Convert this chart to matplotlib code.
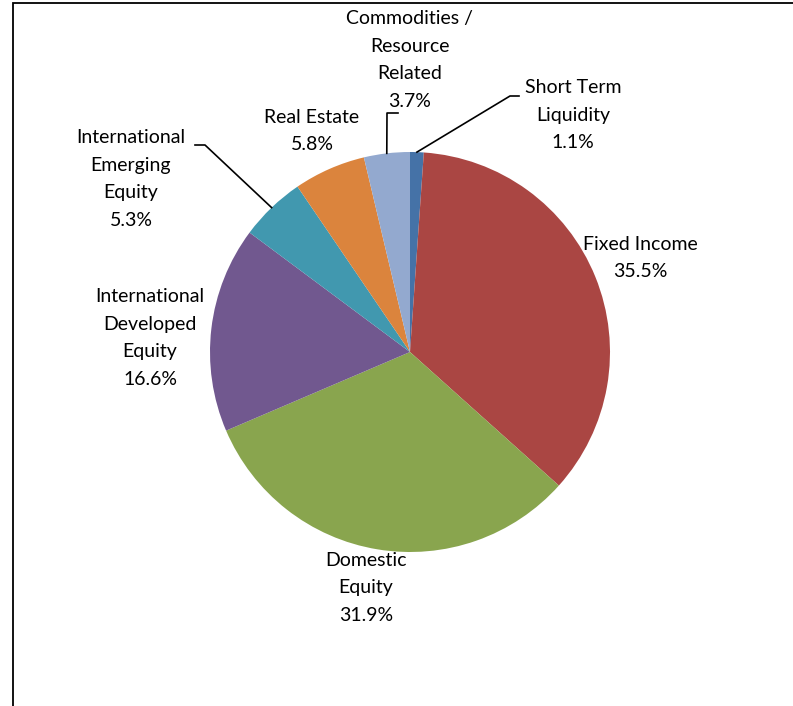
import numpy as np
import matplotlib
matplotlib.use('Agg')
import matplotlib.pyplot as plt
from matplotlib.patches import Rectangle

# asset allocation, clockwise from 12 o'clock
names = ['Short Term\nLiquidity', 'Fixed Income', 'Domestic\nEquity',
         'International\nDeveloped\nEquity', 'International\nEmerging\nEquity',
         'Real Estate', 'Commodities /\nResource\nRelated']
shares = [1.1, 35.5, 31.9, 16.6, 5.3, 5.8, 3.7]
colors = ['#4572A7', '#AA4643', '#89A54E', '#71588F', '#4198AF', '#DB843D', '#93A9CF']

W, H = 793, 706
cx, cy, r = 410, H - 352, 200

plt.rcParams['font.family'] = ['Lato', 'DejaVu Sans']

fig = plt.figure(figsize=(W / 100, H / 100), dpi=100)
ax = fig.add_axes([0, 0, 1, 1])

# chart area frame
ax.add_patch(Rectangle((13, -10), W + 20, H - 3 + 10, fill=False, edgecolor='black', lw=1.3))

wedges, _ = ax.pie(shares, colors=colors, startangle=90, counterclock=False,
                   center=(cx, cy), radius=r, frame=True,
                   wedgeprops=dict(edgecolor='none'))
ax.set_xlim(0, W)
ax.set_ylim(0, H)
ax.axis('off')

# label anchor (centre of text block, in pixels from top-left)
label_pos = [(573, 115), (640, 258), (366, 588), (150, 338),
             (131, 179), (312, 131), (410, 60)]
# leader elbows for the small slices
leaders = {0: (519, 96, 510), 4: (195, 145, 205), 6: (398, 113, 387)}

for i, (name, v) in enumerate(zip(names, shares)):
    lx, ly = label_pos[i]
    ax.text(lx, H - ly, f'{name}\n{v:.1f}%', ha='center', va='center',
            fontsize=14, linespacing=1.78, color='black')
    if i in leaders:
        w = wedges[i]
        mid = np.deg2rad((w.theta1 + w.theta2) / 2)
        px, py = cx + r * np.cos(mid), cy + r * np.sin(mid)
        x0, y0, x1 = leaders[i]
        ax.plot([x0, x1, px], [H - y0, H - y0, py], color='black', lw=1.2)

fig.savefig('out.png', dpi=100)
